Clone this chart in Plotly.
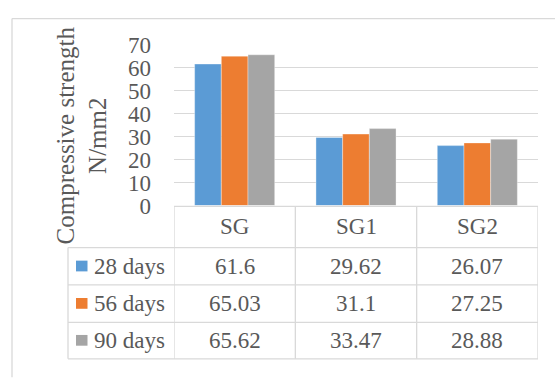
import plotly.graph_objects as go

categories = ["SG", "SG1", "SG2"]
series_names = ["28 days", "56 days", "90 days"]
days28 = [61.6, 29.62, 26.07]
days56 = [65.03, 31.1, 27.25]
days90 = [65.62, 33.47, 28.88]
series_values = [days28, days56, days90]
colors = ["#5B9BD5", "#ED7D31", "#A5A5A5"]
y_ticks = [0, 10, 20, 30, 40, 50, 60, 70]

W, H = 555, 383
FONT = "Liberation Serif"
TXT = "#595959"
GRID = "#D9D9D9"


def px(x):
    return x / W


def py(y):
    return 1 - y / H


plot_l, plot_r, plot_t, plot_b = 174, 538, 35, 207
row_edges = [208, 252, 292, 332, 371]
leg_l = 68

fig = go.Figure()
for name, vals, col in zip(series_names, series_values, colors):
    fig.add_trace(go.Bar(
        x=categories, y=vals, name=name,
        marker=dict(color=col, line=dict(color="rgba(255,255,255,0.6)", width=0.6)),
    ))

shapes = []
annotations = []

# outer frame (left and top visible)
shapes.append(dict(type="line", xref="paper", yref="paper", x0=px(12), x1=1.02,
                   y0=py(7), y1=py(7), line=dict(color=GRID, width=1.3)))
shapes.append(dict(type="line", xref="paper", yref="paper", x0=px(12), x1=px(12),
                   y0=py(7), y1=-0.02, line=dict(color=GRID, width=1.3)))

# table horizontal lines
for i, ye in enumerate(row_edges):
    x0 = px(plot_l) if i < 1 else px(leg_l)
    shapes.append(dict(type="line", xref="paper", yref="paper", x0=x0, x1=px(plot_r),
                       y0=py(ye), y1=py(ye), line=dict(color=GRID, width=1.3)))
# table vertical lines at category boundaries
for b in [-0.5, 0.5, 1.5, 2.5]:
    shapes.append(dict(type="line", xref="x", yref="paper", x0=b, x1=b,
                       y0=py(row_edges[-1]), y1=py(row_edges[0]), line=dict(color=GRID, width=1.3)))
# legend column left line
shapes.append(dict(type="line", xref="paper", yref="paper", x0=px(leg_l), x1=px(leg_l),
                   y0=py(row_edges[-1]), y1=py(row_edges[1]), line=dict(color=GRID, width=1.3)))

cell_font = dict(family=FONT, size=23, color=TXT)

# header row
for c in categories:
    annotations.append(dict(x=c, xref="x", y=py((row_edges[0] + row_edges[1]) / 2), yref="paper",
                            xanchor="center", yanchor="middle",
                            text=c, showarrow=False, font=cell_font))
# data rows
for r, (name, vals, col) in enumerate(zip(series_names, series_values, colors)):
    ycp = (row_edges[r + 1] + row_edges[r + 2]) / 2
    yc = py(ycp)
    for c, v in zip(categories, vals):
        annotations.append(dict(x=c, xref="x", y=yc, yref="paper", text=f"{v:g}",
                                xanchor="center", yanchor="middle",
                                showarrow=False, font=cell_font))
    annotations.append(dict(x=px(92), xref="paper", y=yc, yref="paper", text=name,
                            xanchor="left", yanchor="middle",
                            showarrow=False, font=cell_font))
    shapes.append(dict(type="rect", xref="paper", yref="paper", x0=px(76), x1=px(87.5),
                       y0=py(ycp + 5.5), y1=py(ycp - 6), fillcolor=col, line=dict(width=0)))

# y axis title
annotations.append(dict(x=px(82), xref="paper", y=py(132), yref="paper",
                        xanchor="center", yanchor="middle",
                        text="Compressive strength<br>N/mm2", textangle=-90, showarrow=False,
                        font=dict(family=FONT, size=25, color=TXT)))

fig.update_layout(
    width=W, height=H,
    margin=dict(l=0, r=0, t=0, b=0),
    paper_bgcolor="white", plot_bgcolor="white",
    barmode="group", bargap=0.34, bargroupgap=0,
    showlegend=False,
    shapes=shapes, annotations=annotations,
    xaxis=dict(domain=[px(plot_l), px(plot_r)], range=[-0.5, 2.5], showticklabels=False,
               showgrid=False, zeroline=False, showline=False, ticks=""),
    yaxis=dict(domain=[py(plot_b), py(plot_t)], range=[0, 70], tickvals=y_ticks,
               showgrid=True, gridcolor=GRID, gridwidth=1.3, zeroline=False, showline=False,
               ticks="", ticklabelstandoff=22,
               tickfont=dict(family=FONT, size=23, color=TXT)),
)

fig.write_html("out.html", config={"displayModeBar": False},
               post_script="document.body.style.margin='0';document.body.style.overflow='hidden';")
